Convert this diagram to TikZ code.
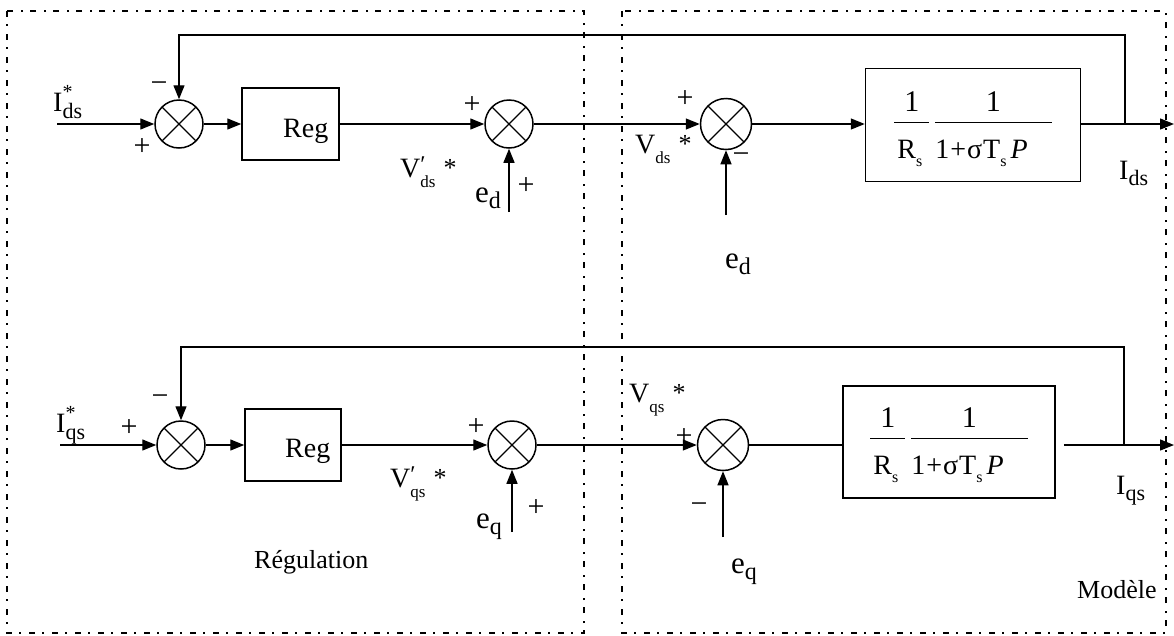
\RequirePackage{fix-cm}
\documentclass[tikz,border=0pt]{standalone}
\usepackage{fontspec}
\setmainfont{Liberation Serif}
\usetikzlibrary{arrows.meta}
\setlength{\arrayrulewidth}{1.2pt}
\renewcommand{\arraystretch}{0}
\newcommand{\Istar}[1]{I\rlap{\raisebox{13pt}{\fontsize{20}{20}\selectfont *}}\raisebox{-7pt}{\fontsize{22}{22}\selectfont #1}}
\newcommand{\Iout}[1]{{\fontsize{28}{28}\selectfont I}\raisebox{-6pt}{\fontsize{22}{22}\selectfont #1}}
\newcommand{\Vlab}[2]{{\fontsize{28}{28}\selectfont V#1}\raisebox{-10pt}{\fontsize{17}{17}\selectfont #2}\hspace{8pt}\raisebox{1pt}{*}}
\newcommand{\primemark}{\rlap{\raisebox{5pt}{\fontsize{24}{24}\selectfont ′}}}
\newcommand{\elab}[1]{{\fontsize{31}{31}\selectfont e}\raisebox{-6pt}{\fontsize{24}{24}\selectfont #1}}
\newcommand{\subs}[1]{\raisebox{-8pt}{\fontsize{16}{16}\selectfont #1}}
\newcommand{\tfr}[2]{\begin{tabular}[c]{@{}c@{}}\rule[-10pt]{0pt}{42pt}{\fontsize{30}{30}\selectfont #1}\\\hline\rule[-10pt]{0pt}{45pt}#2\end{tabular}}
\newcommand{\tfexpr}{\tfr{1}{\rule{3pt}{0pt}R\subs{s}\rule{7pt}{0pt}}\hspace{6pt}\tfr{1}{1\hspace{1pt}+\hspace{1pt}σ\hspace{1pt}T\subs{s}\hspace{4pt}\textit{P}\rule{24pt}{0pt}}}
\begin{document}
\begin{tikzpicture}[x=1pt,y=-1pt,
  >={Triangle[length=14pt,width=11pt]},
  wire/.style={line width=1.3pt},
  sumj/.style={circle,draw,line width=1.5pt,minimum size=48pt,inner sep=0pt,
    path picture={\draw[line width=1.2pt]
      (path picture bounding box.north west) -- (path picture bounding box.south east)
      (path picture bounding box.north east) -- (path picture bounding box.south west);}},
  blk/.style={draw,line width=1.5pt,inner sep=0pt},
  zone/.style={line width=1.2pt,dash pattern=on 6pt off 7pt on 2pt off 8pt},
  txt/.style={inner sep=0pt,anchor=base west,font=\fontsize{26}{28}\selectfont},
  sgn/.style={inner sep=0pt,font=\fontsize{30}{30}\selectfont},
  frc/.style={inner sep=0pt,font=\fontsize{28}{30}\selectfont}]

\useasboundingbox (0,0) rectangle (1174,635);
\draw[zone] (7,11) rectangle (584,633);
\draw[zone] (622,11) rectangle (1166,633);

% ---------- top row (d axis) ----------
\node[sumj] (sa1) at (179,124) {};
\node[blk,minimum width=97pt,minimum height=72pt] (rega) at (290.5,124) {};
\node[sumj] (sa2) at (509,124) {};
\node[sumj,minimum size=51pt] (sa3) at (726,124) {};
\node[blk,minimum width=215pt,minimum height=113pt] (tfa) at (973,125) {};
\node[frc] (fra) at (973,124) {\tfexpr};

\coordinate (ia) at (57,124);
\coordinate (oa) at (1174,124);
\coordinate (ta) at (1125,124);
\coordinate (fa) at (1125,35);
\coordinate (eda) at (509,212);
\coordinate (edb) at (726,215);

\draw[wire,->] (ia) -- (sa1);
\draw[wire,->] (sa1) -- (rega);
\draw[wire,->] (rega) -- (sa2);
\draw[wire,->] (sa2) -- (sa3);
\draw[wire,->] (sa3.east) -- (sa3.east -| tfa.west);
\draw[wire,->] (tfa.east |- oa) -- (oa);
\draw[wire,->] (ta) -- (fa) -| (sa1.north);
\draw[wire,->] (eda) -- (sa2.south);
\draw[wire,->] (edb) -- (sa3.south);

\node[txt] (lIsa) at (53,111) {{\fontsize{28}{28}\selectfont\Istar{ds}}};
\node[sgn] (pa1) at (142,147) {+};
\node[sgn] (ma1) at (159,87) {−};
\node[txt,font=\fontsize{28}{30}\selectfont] (rga) at (283,137) {Reg};
\node[txt] (lVa) at (400,177) {\Vlab{\primemark}{ds}};
\node[sgn] (pa2) at (472,105) {+};
\node[txt] (lea) at (475,202) {\elab{d}};
\node[sgn] (pa3) at (526,186) {+};
\node[sgn] (pa4) at (685,99) {+};
\node[sgn] (ma4) at (741,158) {−};
\node[txt] (lVa2) at (635,153) {\Vlab{}{ds}};
\node[txt] (lea2) at (725,268) {\elab{d}};
\node[txt] (lIa) at (1119,179) {\Iout{ds}};

% ---------- bottom row (q axis) ----------
\node[sumj] (sb1) at (181,445) {};
\node[blk,minimum width=96pt,minimum height=72pt] (regb) at (293,445) {};
\node[sumj] (sb2) at (512,445) {};
\node[sumj,minimum size=51pt] (sb3) at (723,445) {};
\node[blk,minimum width=212pt,minimum height=112pt] (tfb) at (949,442) {};
\node[frc] (frb) at (949,440) {\tfexpr};

\coordinate (ib) at (60,445);
\coordinate (ob) at (1174,445);
\coordinate (tb) at (1124,445);
\coordinate (fb) at (1124,347);
\coordinate (eqa) at (512,532);
\coordinate (eqb) at (723,537);

\draw[wire,->] (ib) -- (sb1);
\draw[wire,->] (sb1) -- (regb);
\draw[wire,->] (regb) -- (sb2);
\draw[wire,->] (sb2) -- (sb3);
\draw[wire] (sb3) -- (tfb.west |- sb3);
\draw[wire,->] ([xshift=8pt]tfb.east |- ob) -- (ob);
\draw[wire,->] (tb) -- (fb) -| (sb1.north);
\draw[wire,->] (eqa) -- (sb2.south);
\draw[wire,->] (eqb) -- (sb3.south);

\node[txt] (lIsb) at (56,432) {{\fontsize{28}{28}\selectfont\Istar{qs}}};
\node[sgn] (pb1) at (129,428) {+};
\node[sgn] (mb1) at (160,400) {−};
\node[txt,font=\fontsize{28}{30}\selectfont] (rgb) at (285,457) {Reg};
\node[txt] (lVb) at (390,487) {\Vlab{\primemark}{qs}};
\node[sgn] (pb2) at (476,427) {+};
\node[txt] (leb) at (476,528) {\elab{q}};
\node[sgn] (pb3) at (536,508) {+};
\node[sgn] (pb4) at (684,437) {+};
\node[sgn] (mb4) at (699,508) {−};
\node[txt] (lVb2) at (629,402) {\Vlab{}{qs}};
\node[txt] (leb2) at (731,573) {\elab{q}};
\node[txt] (lIb) at (1116,494) {\Iout{qs}};

\node[txt] (regl) at (254,568) {Régulation};
\node[txt] (modl) at (1077,598) {Modèle};
\end{tikzpicture}
\end{document}
